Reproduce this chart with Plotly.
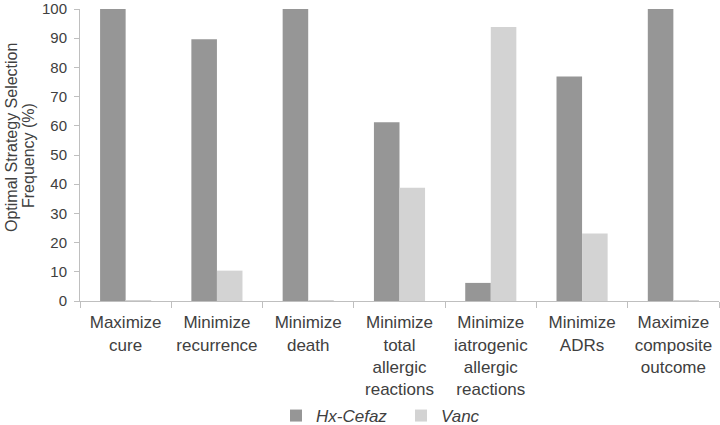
import plotly.graph_objects as go

categories = ["Maximize<br>cure", "Minimize<br>recurrence", "Minimize<br>death",
              "Minimize<br>total<br>allergic<br>reactions",
              "Minimize<br>iatrogenic<br>allergic<br>reactions",
              "Minimize<br>ADRs", "Maximize<br>composite<br>outcome"]
hx_cefaz = [100, 89.6, 100, 61.2, 6.2, 76.9, 100]
vanc = [0.3, 10.4, 0.3, 38.8, 93.8, 23.1, 0.3]
y_ticks = [0, 10, 20, 30, 40, 50, 60, 70, 80, 90, 100]
y_title_lines = ["Optimal Strategy Selection", "Frequency (%)"]

text_color = "#404040"
font_family = "Liberation Sans, Arial, sans-serif"

W, H = 720, 425
L, R, T, B = 80, 1, 9, 124
pw, ph = W - L - R, H - T - B

fig = go.Figure()
fig.add_trace(go.Bar(x=categories, y=hx_cefaz, name="<i>Hx-Cefaz</i>",
                     marker=dict(color="#969696", line=dict(width=0))))
fig.add_trace(go.Bar(x=categories, y=vanc, name="<i>Vanc</i>",
                     marker=dict(color="#d3d3d3", line=dict(width=0))))

# y-axis title as two rotated lines (tight line spacing as in reference)
for txt, px, py in zip(y_title_lines, [11, 28], [138, 156]):
    fig.add_annotation(text=txt, textangle=-90, showarrow=False,
                       xref="paper", yref="paper",
                       x=(px - L) / pw, y=1 - (py - T) / ph,
                       xanchor="center", yanchor="middle",
                       font=dict(size=16, color=text_color))

fig.update_layout(
    width=W, height=H,
    margin=dict(l=L, r=R, t=T, b=B, autoexpand=False),
    paper_bgcolor="white", plot_bgcolor="white",
    barmode="group", bargap=0.44, bargroupgap=0,
    font=dict(family=font_family, size=17, color=text_color),
    showlegend=True,
    legend=dict(orientation="h", x=(276 - L) / pw, xanchor="left",
                y=-(416 - T - ph) / ph, yanchor="middle",
                font=dict(size=17, color=text_color), itemwidth=30,
                entrywidth=80, entrywidthmode="pixels"),
    xaxis=dict(showline=True, linecolor="#bfbfbf", linewidth=1, automargin=False,
               ticks="outside", ticklen=6, tickcolor="#bfbfbf", tickson="boundaries",
               ticklabelstandoff=6, showgrid=False, tickfont=dict(size=17)),
    yaxis=dict(range=[0, 100], tickvals=y_ticks, showline=True, linecolor="#bfbfbf",
               linewidth=1, ticks="outside", ticklen=5, tickcolor="#bfbfbf",
               automargin=False, ticklabelstandoff=4, ticklabeloverflow="allow",
               showgrid=False, zeroline=False, tickfont=dict(size=15)),
)

fig.write_html("out.html", config={"displayModeBar": False},
               post_script="document.body.style.margin='0';document.body.style.padding='0';")
